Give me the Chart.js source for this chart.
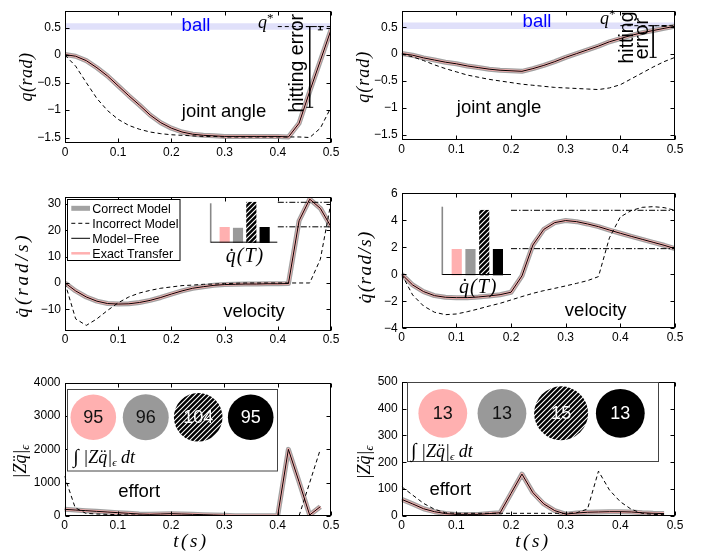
<!DOCTYPE html>
<html>
<head>
<meta charset="utf-8">
<script src="https://cdn.jsdelivr.net/npm/chart.js@4.4.1/dist/chart.umd.min.js"></script>
<style>
  body { margin: 0; background: #fff; }
  #wrap { position: relative; width: 707px; height: 554px; overflow: hidden; }
  #wrap canvas { position: absolute; left: 0; top: 0; }
</style>
</head>
<body>
<div id="wrap">
  <canvas id="p1" width="707" height="554"></canvas>
  <canvas id="p2" width="707" height="554"></canvas>
  <canvas id="p3" width="707" height="554"></canvas>
  <canvas id="p4" width="707" height="554"></canvas>
  <canvas id="p5" width="707" height="554"></canvas>
  <canvas id="p6" width="707" height="554"></canvas>
  <canvas id="i3" width="707" height="554"></canvas>
  <canvas id="i4" width="707" height="554"></canvas>
  <canvas id="i5" width="707" height="554"></canvas>
  <canvas id="i6" width="707" height="554"></canvas>
</div>
<script>
// ---- data ----
const t = [0, 0.02, 0.04, 0.06, 0.08, 0.1, 0.12, 0.14, 0.16, 0.18, 0.2, 0.22, 0.24, 0.26, 0.28, 0.3, 0.32, 0.34, 0.36, 0.38, 0.4, 0.42, 0.44, 0.46, 0.48, 0.5];
const tEffort = t.slice(0, 25); // effort stops at 0.48
const xTicks = [0, 0.1, 0.2, 0.3, 0.4, 0.5];
const methods = ['Correct Model', 'Incorrect Model', 'Model\u2212Free', 'Exact Transfer'];

// joint angle (correct model, model-free and exact transfer overlap)
const qLeftModel = [0.01, -0.02, -0.10, -0.23, -0.38, -0.56, -0.74, -0.91, -1.09, -1.23, -1.33, -1.40, -1.44, -1.46, -1.47, -1.48, -1.48, -1.48, -1.48, -1.48, -1.48, -1.49, -1.24, -0.66, -0.10, 0.46];
const qLeftWrong = [0, -0.20, -0.50, -0.79, -1.01, -1.17, -1.28, -1.35, -1.40, -1.43, -1.45, -1.46, -1.47, -1.48, -1.48, -1.49, -1.49, -1.49, -1.49, -1.49, -1.49, -1.49, -1.49, -1.50, -1.33, -0.95];
const qRightModel = [0.01, -0.02, -0.07, -0.11, -0.15, -0.18, -0.22, -0.25, -0.28, -0.30, -0.31, -0.32, -0.27, -0.21, -0.14, -0.06, 0.01, 0.08, 0.15, 0.23, 0.29, 0.35, 0.40, 0.44, 0.48, 0.52];
const qRightWrong = [0, -0.05, -0.12, -0.20, -0.27, -0.33, -0.39, -0.43, -0.47, -0.50, -0.53, -0.56, -0.58, -0.60, -0.62, -0.63, -0.64, -0.65, -0.66, -0.63, -0.57, -0.46, -0.35, -0.24, -0.14, -0.06];
const qStarLeft = 0.52, qStarRight = 0.53;
const ballLeft = [0.46, 0.58], ballRight = [0.47, 0.59];
const qTicks = [-1.5, -1, -0.5, 0, 0.5];

// velocity
const vLeftModel = [0, -3.0, -5.3, -6.9, -7.8, -8.0, -7.9, -7.4, -6.6, -5.5, -4.2, -3.0, -2.0, -1.4, -0.9, -0.6, -0.5, -0.4, -0.4, -0.3, -0.3, -0.2, 23.6, 31.8, 28.3, 21.3];
const vLeftWrong = [0, -13.6, -16.1, -13.6, -10.4, -7.5, -5.3, -3.8, -2.8, -2.0, -1.5, -1.0, -0.8, -0.5, -0.4, -0.25, -0.1, 0, 0, 0, 0, 0, 0, 0, 9, 30.6];
const vRightModel = [0, -0.79, -1.28, -1.58, -1.70, -1.73, -1.73, -1.68, -1.60, -1.51, -1.33, -0.12, 2.17, 3.33, 3.83, 3.98, 3.90, 3.73, 3.53, 3.28, 3.04, 2.81, 2.59, 2.37, 2.15, 1.90];
const vRightWrong = [0, -1.53, -2.35, -2.81, -2.99, -2.94, -2.77, -2.57, -2.35, -2.15, -1.90, -1.65, -1.41, -1.21, -1.04, -0.86, -0.67, -0.47, -0.17, 2.70, 4.25, 4.72, 4.96, 5.01, 4.94, 4.74];
const vTicksLeft = [-10, 0, 10, 20, 30];
const vTicksRight = [-4, -2, 0, 2, 4, 6];
// final velocity q'(T): exact transfer, correct, incorrect, model-free
const qdotTLeft = [21.3, 21.0, 30.6, 21.3];
const qdotTRight = [1.88, 1.88, 4.74, 1.88];

// effort
const eLeftModel = [200, 180, 160, 140, 120, 100, 80, 60, 50, 60, 70, 60, 50, 40, 30, 20, 10, 10, 10, 10, 10, 2000, 1030, 30, 280];
const eLeftWrong = [1200, 250, 80, 60, 50, 40, 30, 25, 10, 10, 10, 10, 10, 10, 10, 10, 10, 10, 10, 10, 10, 10, 0, 1000, 2000];
const eRightModel = [62, 45, 27, 16, 9, 6, 6, 6, 9, 12, 84, 156, 87, 45, 20, 7, 11, 14, 15, 16, 16, 15, 12, 10, 9];
const eRightWrong = [109, 78, 47, 25, 12, 10, 10, 10, 10, 10, 10, 10, 10, 10, 10, 10, 12, 26, 167, 97, 53, 25, 10, 6, 5];
const eTicksLeft = [0, 1000, 2000, 3000, 4000];
const eTicksRight = [0, 100, 200, 300, 400, 500];
// integrated effort: exact transfer, correct, incorrect, model-free
const effortLeft = [95, 96, 104, 95];
const effortRight = [13, 13, 15, 13];

// ---- styles ----
const W = 707, H = 554;
const SANS = '"Liberation Sans", Arial, sans-serif';
const SERIF = '"Liberation Serif", "Times New Roman", serif';
const GRAY = '#a2a2a2', PINK = '#ffb0b0', BAND = '#e0e0fa';
const TICK = 4;
const F_NOTE = '18.5px ' + SANS;
const F_ROT = '19.5px ' + SANS;
const F_MATH = 'italic 18px ' + SERIF;

function makeHatch() {
  const c = document.createElement('canvas');
  c.width = c.height = 5;
  const g = c.getContext('2d');
  g.fillStyle = '#000';
  g.fillRect(0, 0, 5, 5);
  g.strokeStyle = '#fff';
  g.lineWidth = 1.1;
  g.beginPath();
  g.moveTo(0, 5); g.lineTo(5, 0);
  g.moveTo(-1, 1); g.lineTo(1, -1);
  g.moveTo(4, 6); g.lineTo(6, 4);
  g.stroke();
  return g.createPattern(c, 'repeat');
}
const HATCH = makeHatch();
const insetColors = [PINK, '#999999', HATCH, '#000000'];

const fmt = v => (v < 0 ? '\u2212' : '') + String(Math.abs(v));
const pts = (xs, ys) => ys.map((y, i) => ({ x: xs[i], y }));
const hline = (x0, x1, y) => [{ x: x0, y }, { x: x1, y }];
const vline = (x, y0, y1) => [{ x, y: y0 }, { x, y: y1 }];
const last = a => a[a.length - 1];

function curves(xs, good, bad) {
  return [
    { label: methods[0], data: pts(xs, good), borderColor: GRAY, borderWidth: 5, order: 5 },
    { label: methods[1], data: pts(xs, bad), borderColor: '#000', borderWidth: 1, borderDash: [4, 3], order: 2 },
    { label: methods[2], data: pts(xs, good), borderColor: '#000', borderWidth: 1, order: 1 },
    { label: methods[3], data: pts(xs, good), borderColor: PINK, borderWidth: 2.5, order: 4 }
  ];
}

function drawText(ctx, s) {
  ctx.save();
  ctx.translate(s.x, s.y);
  if (s.rot) ctx.rotate(s.rot);
  ctx.textBaseline = s.base || 'alphabetic';
  ctx.textAlign = 'left';
  let w = 0;
  s.parts.forEach(p => { ctx.font = p.font; ctx.letterSpacing = (p.ls || 0) + 'px'; w += ctx.measureText(p.t).width; });
  let cx = s.align === 'left' ? 0 : -w / 2;
  s.parts.forEach(p => {
    ctx.font = p.font;
    ctx.letterSpacing = (p.ls || 0) + 'px';
    ctx.fillStyle = p.color || '#000';
    ctx.fillText(p.t, cx, p.dy || 0);
    cx += ctx.measureText(p.t).width;
  });
  ctx.letterSpacing = '0px';
  ctx.restore();
}
const notes = list => ({ id: 'notes', afterDraw(chart) { list.forEach(s => drawText(chart.ctx, s)); } });

// box with inward ticks, like the original axes
const frame = {
  id: 'frame',
  afterDatasetsDraw(chart) {
    const { ctx, chartArea: a, scales: { x, y } } = chart;
    const L = Math.round(a.left) + 0.5, R = Math.round(a.right) - 0.5;
    const T = Math.round(a.top) + 0.5, B = Math.round(a.bottom) - 0.5;
    ctx.save();
    ctx.strokeStyle = '#000';
    ctx.lineWidth = 1;
    ctx.setLineDash([]);
    ctx.strokeRect(L, T, R - L, B - T);
    ctx.beginPath();
    x.ticks.forEach(tk => {
      const px = Math.round(x.getPixelForValue(tk.value)) + 0.5;
      ctx.moveTo(px, B); ctx.lineTo(px, B - TICK);
      ctx.moveTo(px, T); ctx.lineTo(px, T + TICK);
    });
    y.ticks.forEach(tk => {
      const py = Math.round(y.getPixelForValue(tk.value)) + 0.5;
      ctx.moveTo(L, py); ctx.lineTo(L + TICK, py);
      ctx.moveTo(R, py); ctx.lineTo(R - TICK, py);
    });
    ctx.stroke();
    ctx.restore();
  }
};

function axis(min, max, ticks, dir) {
  return {
    type: 'linear', min, max,
    grid: { display: false, drawTicks: false },
    border: { display: false },
    afterBuildTicks: s => { s.ticks = ticks.map(v => ({ value: v })); },
    afterFit: s => { if (dir === 'x') s.height = 20; else s.width = 40; },
    ticks: { font: { family: SANS, size: 12 }, color: '#000', padding: dir === 'x' ? 2 : 4, autoSkip: false, maxRotation: 0, callback: v => fmt(v) }
  };
}

function panel(id, box, yMin, yMax, yTicks, datasets, texts, extra) {
  return new Chart(document.getElementById(id), {
    type: 'line',
    data: { datasets },
    options: {
      responsive: false, animation: false, devicePixelRatio: 1, events: [],
      layout: { padding: { left: box.l - 40, top: box.t, right: W - box.r, bottom: H - box.b - 20 } },
      elements: { point: { radius: 0 }, line: { tension: 0, borderJoinStyle: 'round' } },
      plugins: { legend: { display: false }, tooltip: { enabled: false } },
      scales: { x: axis(0, 0.5, xTicks, 'x'), y: axis(yMin, yMax, yTicks, 'y') }
    },
    plugins: [frame, notes(texts)].concat(extra || [])
  });
}

const band = (lo, hi) => ({ data: hline(0, 0.5, hi), fill: { value: lo }, backgroundColor: BAND, borderWidth: 0, order: 20 });
const dashed = (data, dash) => ({ data, borderColor: '#000', borderWidth: 1, borderDash: dash, order: 0 });
const errBar = (data, r) => ({ data, borderColor: '#000', borderWidth: 1, pointStyle: 'line', pointRadius: r, pointBorderColor: '#000', pointBorderWidth: 1, order: 0 });

const yTitle = (parts, x, y) => ({ parts, x, y, rot: -Math.PI / 2, base: 'middle' });
const qStarText = (x, y) => ({ parts: [{ t: 'q', font: F_MATH }, { t: '*', font: '13px ' + SERIF, dy: -6 }], x, y, align: 'left' });

// ---- joint angle ----
panel('p1', { l: 65, r: 331, t: 9, b: 143 }, -1.6, 0.8, qTicks,
  curves(t, qLeftModel, qLeftWrong).concat([
    band(ballLeft[0], ballLeft[1]),
    dashed(hline(0.4, 0.5, qStarLeft), [4, 3]),
    errBar(vline(0.46, qStarLeft, last(qLeftWrong)), 3.5),
    errBar(vline(0.48, qStarLeft, last(qLeftModel)), 2.5)
  ]),
  [
    { parts: [{ t: 'ball', font: F_NOTE, color: '#0000ff' }], x: 196, y: 30.7 },
    { parts: [{ t: 'joint angle', font: F_NOTE }], x: 224, y: 116.7 },
    { parts: [{ t: 'hitting error', font: F_ROT }], x: 302.5, y: 63.3, rot: -Math.PI / 2 },
    qStarText(258, 28),
    yTitle([{ t: 'q(rad)', font: F_MATH, ls: 0.5 }], 27.5, 77)
  ]);

panel('p2', { l: 401.7, r: 675, t: 5, b: 140 }, -1.6, 0.8, qTicks,
  curves(t, qRightModel, qRightWrong).concat([
    band(ballRight[0], ballRight[1]),
    dashed(hline(0.4, 0.5, qStarRight), [4, 3]),
    errBar(vline(0.46, qStarRight, last(qRightWrong)), 3.5),
    errBar(vline(0.48, qStarRight, last(qRightModel)), 2.5)
  ]),
  [
    { parts: [{ t: 'ball', font: F_NOTE, color: '#0000ff' }], x: 537, y: 26.7 },
    { parts: [{ t: 'joint angle', font: F_NOTE }], x: 499, y: 113.3 },
    { parts: [{ t: 'hitting', font: F_ROT }], x: 633, y: 37.5, rot: -Math.PI / 2 },
    { parts: [{ t: 'error', font: F_ROT }], x: 647.5, y: 38.7, rot: -Math.PI / 2 },
    qStarText(600, 24),
    yTitle([{ t: 'q(rad)', font: F_MATH, ls: 1 }], 364, 76.7)
  ]);

// ---- velocity ----
const legendBox = {
  id: 'legendBox',
  afterDatasetsDraw(chart) {
    const { ctx } = chart;
    ctx.save();
    ctx.fillStyle = '#fff';
    ctx.fillRect(67.5, 199.5, 112.5, 61);
    ctx.strokeStyle = '#000';
    ctx.lineWidth = 1;
    ctx.strokeRect(67.5, 199.5, 112.5, 61);
    chart.data.datasets.slice(0, 4).forEach((ds, i) => {
      const y = 208.3 + i * 15;
      ctx.strokeStyle = ds.borderColor;
      ctx.lineWidth = ds.borderWidth;
      ctx.setLineDash(ds.borderDash || []);
      ctx.beginPath();
      ctx.moveTo(71.3, y); ctx.lineTo(90, y);
      ctx.stroke();
      ctx.setLineDash([]);
      ctx.font = '12.5px ' + SANS;
      ctx.fillStyle = '#000';
      ctx.textBaseline = 'alphabetic';
      ctx.fillText(ds.label, 92.3, y + 4.5);
    });
    ctx.restore();
  }
};

const F_DOT = 'italic 19px ' + SERIF;
panel('p3', { l: 65, r: 331, t: 197.3, b: 330.7 }, -18.1, 32.5, vTicksLeft,
  curves(t, vLeftModel, vLeftWrong).concat([
    dashed(hline(0.4, 0.5, last(vLeftWrong)), [6, 2, 1.5, 2]),
    dashed(hline(0.4, 0.5, last(vLeftModel)), [6, 2, 1.5, 2])
  ]),
  [
    { parts: [{ t: 'velocity', font: F_NOTE }], x: 254, y: 316.7 },
    yTitle([{ t: 'q\u0307(rad/s)', font: F_DOT, ls: 3 }], 23, 275)
  ], [legendBox]);

panel('p4', { l: 401.7, r: 675, t: 193.3, b: 328.3 }, -4, 6, vTicksRight,
  curves(t, vRightModel, vRightWrong).concat([
    dashed(hline(0.2, 0.5, last(vRightWrong)), [6, 2, 1.5, 2]),
    dashed(hline(0.2, 0.5, last(vRightModel)), [6, 2, 1.5, 2])
  ]),
  [
    { parts: [{ t: 'velocity', font: F_NOTE }], x: 595.7, y: 316 },
    yTitle([{ t: 'q\u0307(rad/s)', font: F_DOT, ls: 1.5 }], 366, 266.7)
  ]);

// ---- effort ----
const zTitle = [{ t: '|Zq\u0308|', font: F_MATH }, { t: '\u03f5', font: 'italic 12px ' + SERIF, dy: 5 }];
panel('p5', { l: 64.5, r: 331, t: 382.7, b: 516 }, 0, 4000, eTicksLeft,
  curves(tEffort, eLeftModel, eLeftWrong),
  [
    { parts: [{ t: 'effort', font: F_NOTE }], x: 139.2, y: 496.7 },
    yTitle(zTitle, 21, 461.7),
    { parts: [{ t: 't(s)', font: F_DOT, ls: 2.5 }], x: 191, y: 541.5, base: 'middle' }
  ]);

panel('p6', { l: 401.7, r: 675, t: 381.7, b: 516 }, 0, 500, eTicksRight,
  curves(tEffort, eRightModel, eRightWrong),
  [
    { parts: [{ t: 'effort', font: F_NOTE }], x: 450.3, y: 495 },
    yTitle(zTitle, 365, 462.5),
    { parts: [{ t: 't(s)', font: F_DOT, ls: 2.5 }], x: 533, y: 541.5, base: 'middle' }
  ]);

// ---- insets ----
function barInset(id, box, yMin, yMax, values, label) {
  return new Chart(document.getElementById(id), {
    type: 'bar',
    data: { datasets: [{ data: values.map((v, i) => ({ x: i, y: v })), base: yMin, backgroundColor: insetColors, borderWidth: 0, barThickness: 9.5, clip: false }] },
    options: {
      responsive: false, animation: false, devicePixelRatio: 1, events: [],
      layout: { padding: { left: box.l, top: box.t, right: W - box.r, bottom: H - box.b } },
      plugins: { legend: { display: false }, tooltip: { enabled: false } },
      scales: {
        x: { type: 'linear', display: false, min: -1.05, max: 3.95, offset: false, grid: { offset: false } },
        y: { display: false, min: yMin, max: yMax }
      }
    },
    plugins: [{
      id: 'insetAxes',
      afterDatasetsDraw(chart) {
        const { ctx, chartArea: a } = chart;
        ctx.save();
        ctx.strokeStyle = '#888';
        ctx.lineWidth = 1.6;
        ctx.beginPath(); ctx.moveTo(a.left, a.top); ctx.lineTo(a.left, a.bottom); ctx.stroke();
        ctx.strokeStyle = '#000';
        ctx.lineWidth = 1;
        ctx.beginPath(); ctx.moveTo(a.left, a.bottom - 0.5); ctx.lineTo(a.right, a.bottom - 0.5); ctx.stroke();
        ctx.restore();
      }
    }, notes([label])]
  });
}

const qdotLabel = (x, y) => ({ parts: [{ t: 'q\u0307(T)', font: 'italic 20px ' + SERIF, ls: 1 }], x, y, base: 'middle' });
barInset('i3', { l: 210.7, r: 277.3, t: 203.3, b: 242.7 }, 15.6, 30.2, qdotTLeft, qdotLabel(245, 257));
barInset('i4', { l: 442.3, r: 511, t: 206.7, b: 275 }, 0, 5, qdotTRight, qdotLabel(478.3, 287.3));

function bubbleInset(id, c0, c3, cy, r0, values, rect, label) {
  const sp = (c3 - c0) / 3;
  const vmin = Math.min(...values);
  return new Chart(document.getElementById(id), {
    type: 'bubble',
    data: { datasets: [{ data: values.map((v, i) => ({ x: i, y: 0, r: r0 * Math.pow(v / vmin, 0.7) })), backgroundColor: insetColors, borderWidth: 0, clip: false }] },
    options: {
      responsive: false, animation: false, devicePixelRatio: 1, events: [],
      layout: { padding: { left: c0 - sp / 2, top: cy - 30, right: W - (c3 + sp / 2), bottom: H - (cy + 30) } },
      plugins: { legend: { display: false }, tooltip: { enabled: false } },
      scales: { x: { type: 'linear', display: false, min: -0.5, max: 3.5 }, y: { display: false, min: -1, max: 1 } }
    },
    plugins: [{
      id: 'insetBox',
      beforeDraw(chart) {
        const ctx = chart.ctx;
        ctx.save();
        ctx.fillStyle = '#fff';
        ctx.fillRect(rect[0], rect[1], rect[2] - rect[0], rect[3] - rect[1]);
        ctx.strokeStyle = '#444';
        ctx.lineWidth = 1;
        ctx.strokeRect(rect[0], rect[1], rect[2] - rect[0], rect[3] - rect[1]);
        ctx.restore();
      },
      afterDatasetsDraw(chart) {
        const ctx = chart.ctx;
        ctx.save();
        ctx.font = '18px ' + SANS;
        ctx.textAlign = 'center';
        ctx.textBaseline = 'middle';
        chart.getDatasetMeta(0).data.forEach((el, i) => {
          ctx.fillStyle = i < 2 ? '#111' : '#fff';
          ctx.fillText(String(values[i]), el.x, el.y + 1);
        });
        ctx.restore();
      }
    }, notes([label])]
  });
}

const intLabel = (x, y) => ({
  parts: [
    { t: '\u222b', font: '20px ' + SERIF },
    { t: ' |Zq\u0308|', font: F_MATH },
    { t: '\u03f5', font: 'italic 11px ' + SERIF, dy: 3 },
    { t: ' dt', font: F_MATH }
  ], x, y, align: 'left'
});
bubbleInset('i5', 93.3, 250.7, 417.3, 22.8, effortLeft, [67.5, 389.5, 277.5, 471], intLabel(73.3, 462.5));
bubbleInset('i6', 442.8, 620.3, 413.3, 24.4, effortRight, [407.5, 382.5, 658.5, 461.5], intLabel(411, 456.5));
</script>
</body>
</html>
